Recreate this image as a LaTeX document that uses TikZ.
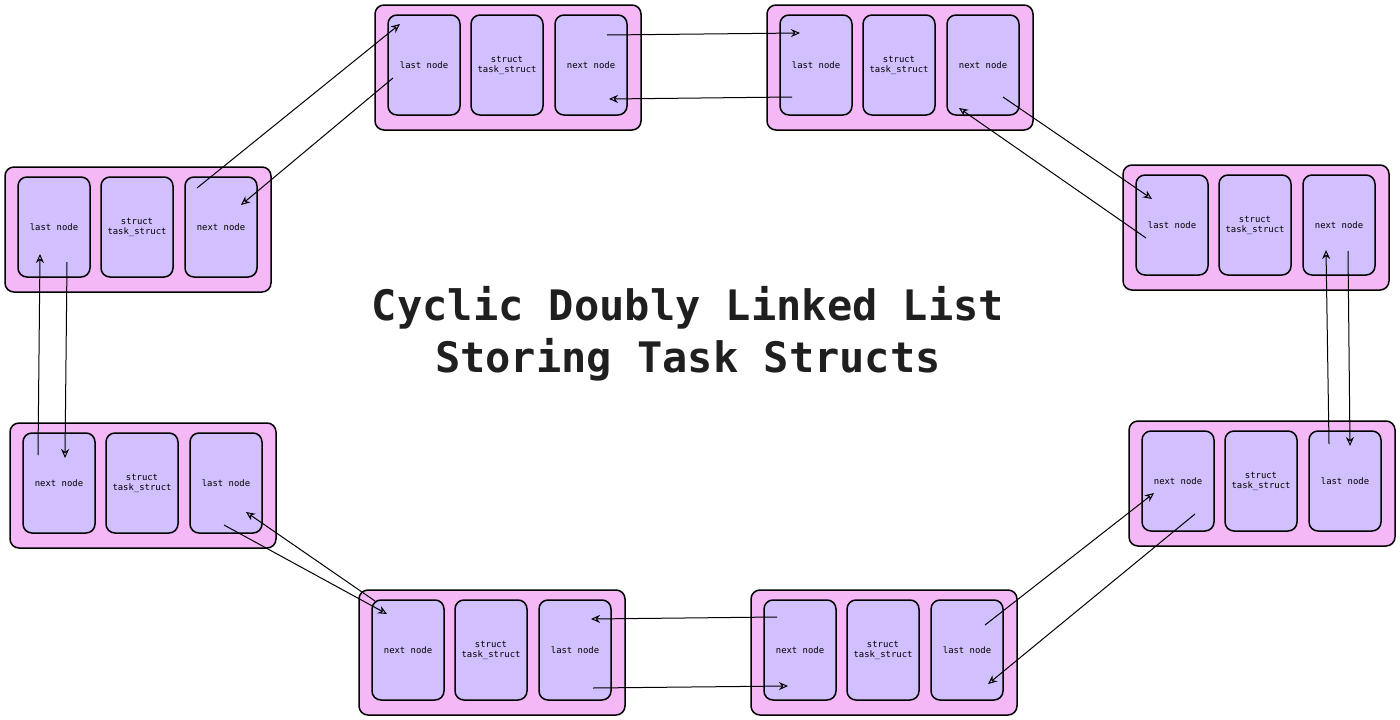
\documentclass[tikz,border=0pt]{standalone}
\usepackage{fontspec}
\setmonofont{DejaVu Sans Mono}
\begin{document}
\begin{tikzpicture}[x=1pt,y=-1pt,
 outer/.style={draw=black,line width=1.5pt,fill=outerpink,rounded corners=9pt},
 cell/.style={draw=black,line width=1.5pt,fill=cellviolet,rounded corners=9pt,minimum width=72pt,minimum height=100pt,font=\ttfamily\fontsize{8.9}{10}\selectfont,align=center},
 arr/.style={-{Stealth[open,length=9pt,width=8pt]},line width=1pt}]
\definecolor{outerpink}{HTML}{F5B8F7}
\definecolor{cellviolet}{HTML}{D1BFFE}
\usetikzlibrary{arrows.meta}
\useasboundingbox (0,0) rectangle (1400,720);
% group macro
\newcommand{\grp}[6]{%
 \draw[outer] (#1,#2) rectangle ++(266,125);
 \node[cell] (#3a) at (#1+49,#2+60) {#4};
 \node[cell] (#3b) at (#1+132,#2+60) {struct\\task\_struct};
 \node[cell] (#3c) at (#1+216,#2+60) {#6};}
\grp{375}{5}{ga}{last node}{}{next node}
\grp{767}{5}{gb}{last node}{}{next node}
\grp{1123}{165}{gc}{last node}{}{next node}
\grp{1129}{421}{gd}{next node}{}{last node}
\grp{751}{590}{ge}{next node}{}{last node}
\grp{359}{590}{gf}{next node}{}{last node}
\grp{10}{423}{gg}{next node}{}{last node}
\grp{5}{167}{gh}{last node}{}{next node}
\draw[arr] (607,35) -- (800,33);
\draw[arr] (792,97) -- (609,99);
\draw[arr] (1003,97) -- (1152,199);
\draw[arr] (1146,238) -- (959,108);
\draw[arr] (1348,251) -- (1350,446);
\draw[arr] (1329,444) -- (1326,250);
\draw[arr] (1195,514) -- (988,684);
\draw[arr] (985,625) -- (1154,493);
\draw[arr] (777,617) -- (591,619);
\draw[arr] (593,688) -- (788,686);
\draw[arr] (375,601) -- (246,512);
\draw[arr] (224,525) -- (387,614);
\draw[arr] (38,455) -- (40,254);
\draw[arr] (67,262) -- (65,458);
\draw[arr] (197,188) -- (400,24);
\draw[arr] (393,78) -- (241,205);
\node[font=\ttfamily\bfseries\fontsize{42}{52}\selectfont,text=black!88,align=center] (title) at (688,334) {Cyclic Doubly Linked List\\Storing Task Structs};
\end{tikzpicture}
\end{document}
